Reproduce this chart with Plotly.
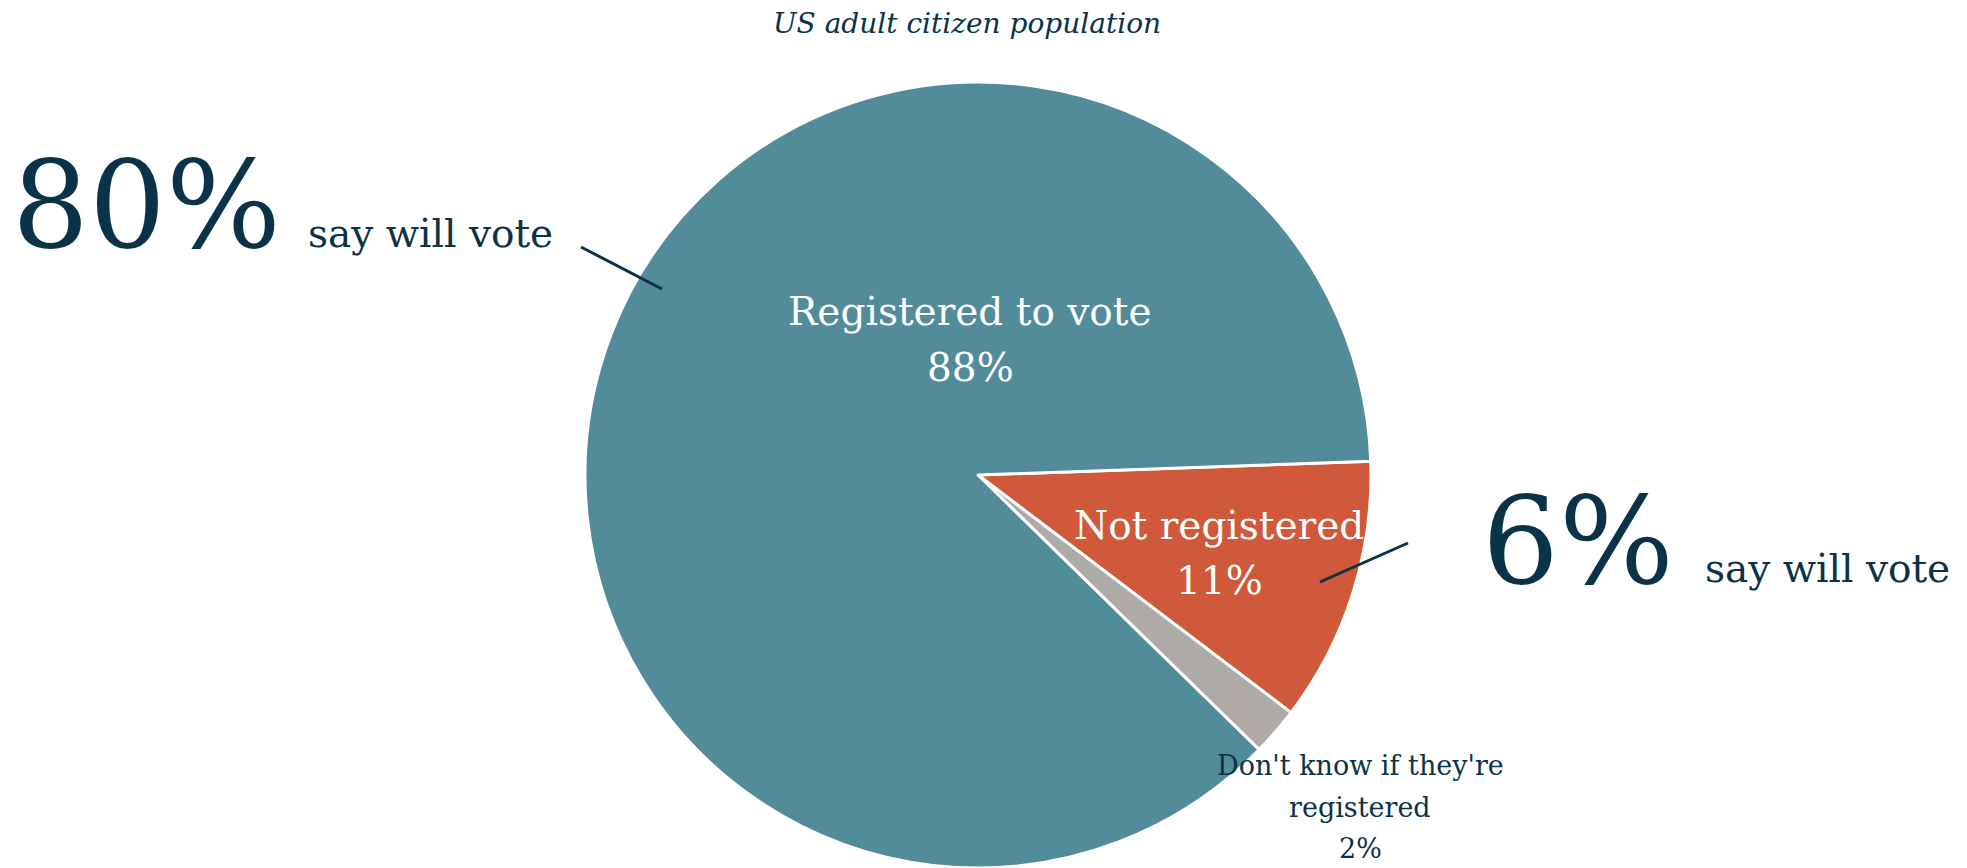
import plotly.graph_objects as go

W, H = 1967, 868

# data
labels = ["Not registered", "Don't know if they're registered", "Registered to vote"]
values = [11, 2, 88]
colors = ["#d0593b", "#aeaaa8", "#528b99"]
will_vote_registered = 80
will_vote_not_registered = 6

NAVY = "#0b3347"
FONT = "DejaVu Serif"


def px(x):
    return x / W


def py(y):
    return 1 - y / H


fig = go.Figure()
fig.add_trace(go.Pie(
    labels=labels,
    values=values,
    sort=False,
    direction="clockwise",
    rotation=88,
    textinfo="none",
    hoverinfo="label+percent",
    marker=dict(colors=colors, line=dict(color="white", width=3)),
    domain=dict(x=[px(585), px(1371)], y=[0, py(82)]),
    showlegend=False,
))


def label(x, baseline, text, size, color, xanchor="center"):
    # place a single line of text by its baseline
    return dict(x=px(x), y=py(baseline - 0.36 * size), text=text,
                font=dict(size=size, color=color),
                xanchor=xanchor, yanchor="middle",
                xref="paper", yref="paper", showarrow=False)


annotations = [
    label(967, 34, "<i>US adult citizen population</i>", 28, NAVY),
    # slice labels
    label(970, 326, labels[2], 39, "white"),
    label(970, 382, f"{values[2]}%", 39, "white"),
    label(1219, 540, labels[0], 39, "white"),
    label(1219, 595, f"{values[0]}%", 39, "white"),
    label(1360, 775, "Don't know if they're", 27, NAVY),
    label(1360, 817, "registered", 27, NAVY),
    label(1360, 858, f"{values[1]}%", 27, NAVY),
    # callouts
    label(146, 249, f"{will_vote_registered}%", 121, NAVY),
    label(306, 248, "say will vote", 39, NAVY, "left"),
    label(1578, 585, f"{will_vote_not_registered}%", 121, NAVY),
    label(1703, 583, "say will vote", 39, NAVY, "left"),
]

shapes = [
    dict(type="line", xref="paper", yref="paper",
         x0=px(581), y0=py(247), x1=px(662), y1=py(289),
         line=dict(color=NAVY, width=3)),
    dict(type="line", xref="paper", yref="paper",
         x0=px(1408), y0=py(543), x1=px(1320), y1=py(582),
         line=dict(color=NAVY, width=3)),
]

fig.update_layout(
    width=W,
    height=H,
    margin=dict(l=0, r=0, t=0, b=0),
    paper_bgcolor="white",
    plot_bgcolor="white",
    font=dict(family=FONT, color=NAVY),
    annotations=annotations,
    shapes=shapes,
)

fig.write_html("out.html", config={"displayModeBar": False},
               post_script="document.body.style.margin = '0';")
